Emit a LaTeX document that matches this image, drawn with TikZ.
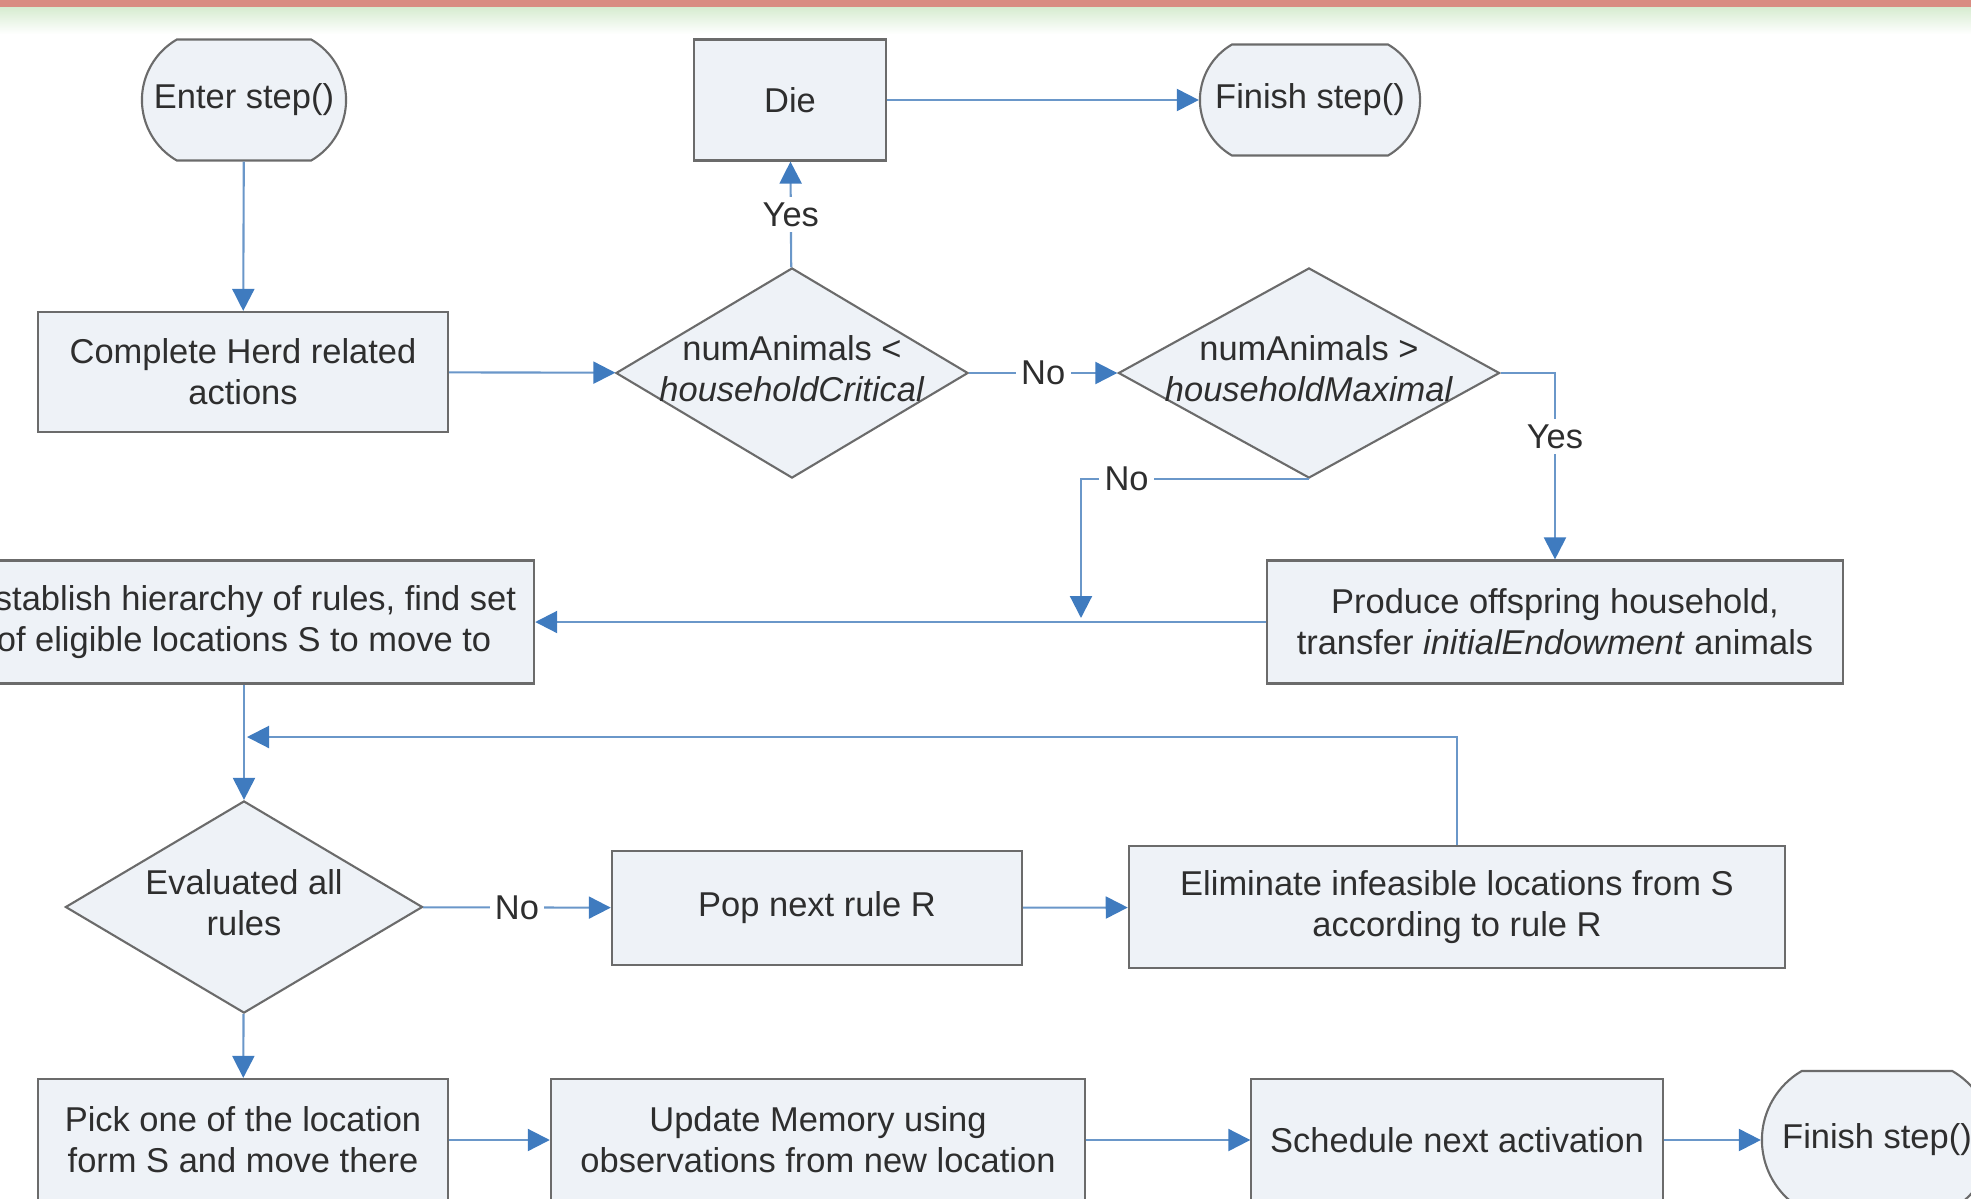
\documentclass[tikz,border=0pt]{standalone}
\usepackage{fontspec}
\setmainfont{Liberation Sans}
\usetikzlibrary{shapes.geometric,shapes.misc,arrows.meta}

\definecolor{boxfill}{HTML}{EEF2F7}
\definecolor{boxline}{HTML}{6B6B6B}
\definecolor{flowblue}{HTML}{6A97C9}
\definecolor{tipblue}{HTML}{3F7BBF}
\definecolor{inkgray}{HTML}{2E2E2E}
\definecolor{bandred}{HTML}{D98C82}
\definecolor{bandgreen}{HTML}{D6ECD0}

% two centred lines that do not widen a diamond
\newcommand{\dlines}[2]{\makebox[0pt]{\begin{tabular}{@{}c@{}}#1\\#2\end{tabular}}}

\begin{document}
\begin{tikzpicture}[x=0.01cm,y=-0.01cm,
font=\fontsize{9.8}{11.6}\selectfont, text=inkgray,
process/.style={rectangle,draw=boxline,fill=boxfill,line width=0.6pt,align=center,inner sep=0pt},
terminal/.style={rounded rectangle,rounded rectangle arc length=120,draw=boxline,fill=boxfill,line width=0.6pt,inner sep=0pt},
decision/.style={diamond,draw=boxline,fill=boxfill,line width=0.6pt,inner sep=0pt},
flow/.style={draw=flowblue,line width=0.6pt,-{Triangle[length=0.22cm,width=0.22cm,color=tipblue]}},
lbl/.style={fill=white,inner sep=1.5pt}]
\useasboundingbox (0,0) rectangle (1971,1199);
\clip (0,0) rectangle (1971,1199);
\fill[bandred] (0,0) rectangle (1971,7);
\shade[top color=bandgreen, bottom color=white] (0,7) rectangle (1971,34);

% first rows
\node[terminal, minimum width=2.04cm, minimum height=1.21cm] (enter) at (244,100) {Enter step()};
\node[process, minimum width=1.92cm, minimum height=1.21cm] (die) at (790,100) {Die};
\node[terminal, minimum width=2.20cm, minimum height=1.11cm] (finA) at (1310,100) {Finish step()};
\node[process, minimum width=4.10cm, minimum height=1.20cm] (herd) at (243,372) {Complete Herd related\\actions};
\node[decision, minimum width=3.52cm, minimum height=2.10cm] (crit) at (792,373) {\dlines{numAnimals <}{\textit{householdCritical}}};
\node[decision, minimum width=3.81cm, minimum height=2.10cm] (maxi) at (1309,373) {\dlines{numAnimals >}{\textit{householdMaximal}}};
\node[process, minimum width=5.80cm, minimum height=1.23cm] (rules) at (244,622) {Establish hierarchy of rules, find set\\of eligible locations S to move to};
\node[process, minimum width=5.76cm, minimum height=1.23cm] (offspring) at (1555,622) {Produce offspring household,\\transfer \textit{initialEndowment} animals};
\coordinate (merge) at (1081,618);

% rule loop
\node[decision, minimum width=3.57cm, minimum height=2.12cm] (evalall) at (244,907) {\dlines{Evaluated all}{rules}};
\node[process, minimum width=4.10cm, minimum height=1.14cm] (pop) at (817,908) {Pop next rule R};
\node[process, minimum width=6.56cm, minimum height=1.22cm] (elim) at (1457,907) {Eliminate infeasible locations from S\\according to rule R};
\coordinate (back) at (247,737);

% last row
\node[process, minimum width=4.10cm, minimum height=1.22cm] (pick) at (243,1140) {Pick one of the location\\form S and move there};
\node[process, minimum width=5.34cm, minimum height=1.22cm] (update) at (818,1140) {Update Memory using\\observations from new location};
\node[process, minimum width=4.11cm, minimum height=1.22cm] (sched) at (1457,1140) {Schedule next activation};
\node[terminal, minimum width=2.30cm, minimum height=1.38cm] (finB) at (1877,1140) {Finish step()};

\draw[flow] (enter) -- (herd);
\draw[flow] (herd) -- (crit);
\draw[flow] (crit) -- node[lbl] {Yes} (die);
\draw[flow] (die) -- (finA);
\draw[flow] (crit) -- node[lbl] {No} (maxi);
\draw[flow] (maxi.east) -| node[lbl, pos=0.67] {Yes} (offspring.north);
\draw[flow] (maxi.south) -| node[lbl, pos=0.4] {No} (merge);
\draw[flow] (offspring) -- (rules);
\draw[flow] (rules) -- (evalall);
\draw[flow] (evalall) -- node[lbl] {No} (pop);
\draw[flow] (pop) -- (elim);
\draw[flow] (elim.north) |- (back);
\draw[flow] (evalall) -- (pick);
\draw[flow] (pick) -- (update);
\draw[flow] (update) -- (sched);
\draw[flow] (sched) -- (finB);
\end{tikzpicture}
\end{document}
